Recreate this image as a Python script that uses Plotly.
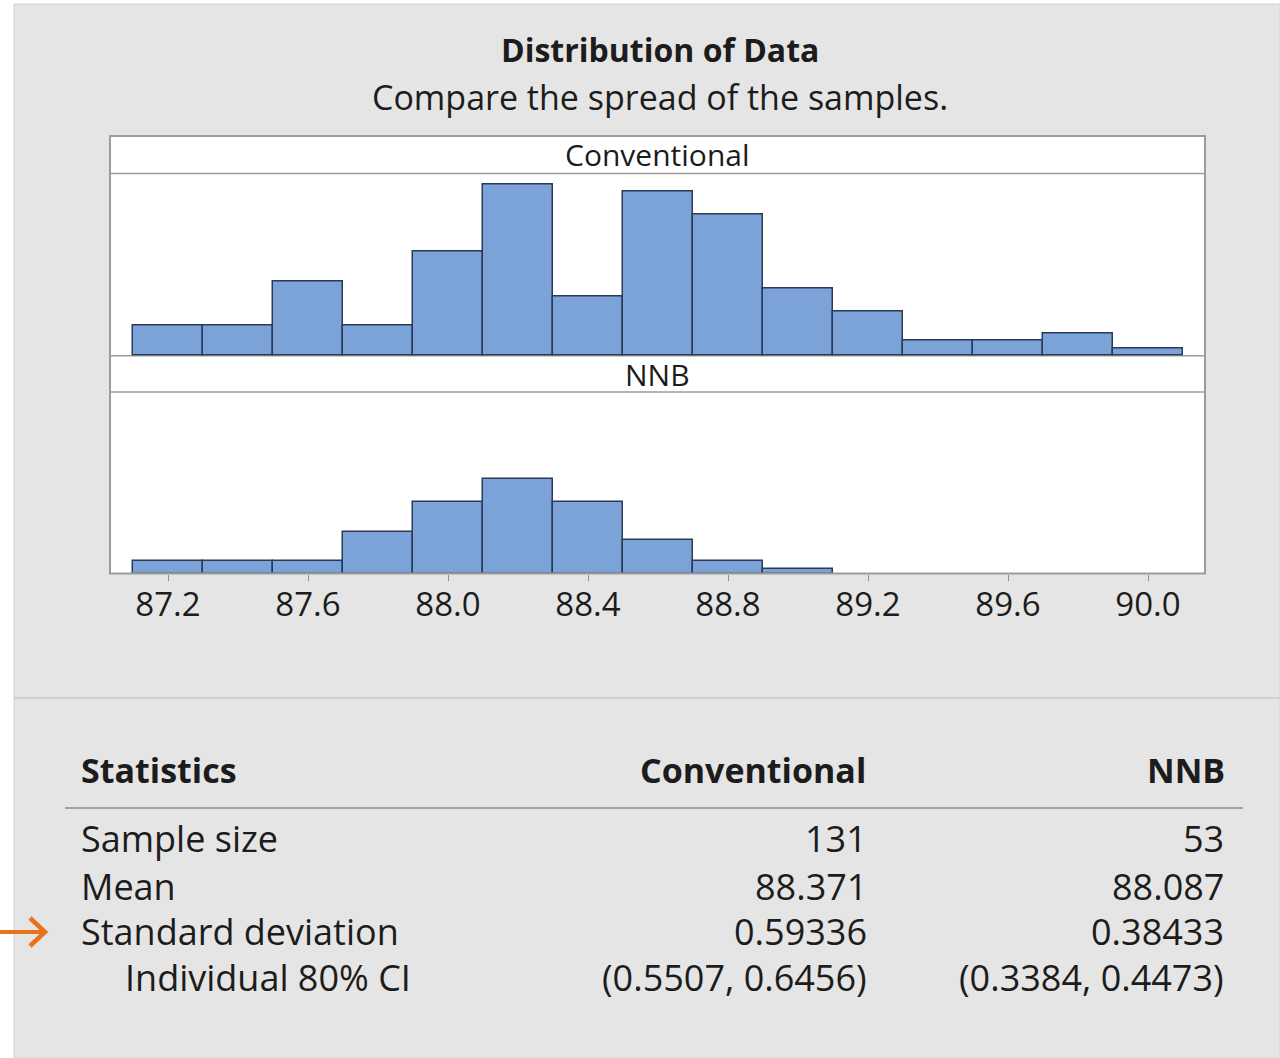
import plotly.graph_objects as go

W, H = 1280, 1058

# ---------------- data ----------------
bin_centers_conv = [87.2, 87.4, 87.6, 87.8, 88.0, 88.2, 88.4, 88.6, 88.8, 89.0, 89.2, 89.4, 89.6, 89.8, 90.0]
conv_counts = [4, 4, 10, 4, 14, 23, 8, 22, 19, 9, 6, 2, 2, 3, 1]
bin_centers_nnb = [87.2, 87.4, 87.6, 87.8, 88.0, 88.2, 88.4, 88.6, 88.8, 89.0]
nnb_heights = [1.68, 1.68, 1.68, 5.66, 9.6, 12.78, 9.6, 4.5, 1.68, 0.56]
bin_width = 0.2

x_ticks = [87.2, 87.6, 88.0, 88.4, 88.8, 89.2, 89.6, 90.0]
x_tick_labels = ["87.2", "87.6", "88.0", "88.4", "88.8", "89.2", "89.6", "90.0"]

groups = ["Conventional", "NNB"]
stat_labels = ["Sample size", "Mean", "Standard deviation", "Individual 80% CI"]
conv_stats = ["131", "88.371", "0.59336", "(0.5507, 0.6456)"]
nnb_stats = ["53", "88.087", "0.38433", "(0.3384, 0.4473)"]

title = "Distribution of Data"
subtitle = "Compare the spread of the samples."

# ---------------- helpers ----------------
def px(x):
    return x / W

def py(y):
    return 1 - y / H

FONT = "Open Sans"
TXT = "#1c1c1c"
BAR = "#7BA3D8"
BAR_LINE = "#2a3a58"
FRAME = "#9c9c9c"
BG = "#e5e5e5"

XL, XR = 110, 1205
TOP, STRIP1, BASE1, STRIP2, BOT = 136, 173.5, 355.7, 392, 573.5
xrange_ = [87.2 - (168 - XL) / 350.0, 87.2 + (XR - 168) / 350.0]
yrange_ = [0, (BASE1 - STRIP1) / 7.45]

fig = go.Figure()
fig.add_trace(go.Bar(x=bin_centers_conv, y=conv_counts, width=bin_width,
                     marker=dict(color=BAR, line=dict(color=BAR_LINE, width=1.5)),
                     xaxis="x", yaxis="y", showlegend=False, hoverinfo="skip"))
fig.add_trace(go.Bar(x=bin_centers_nnb, y=nnb_heights, width=bin_width,
                     marker=dict(color=BAR, line=dict(color=BAR_LINE, width=1.5)),
                     xaxis="x2", yaxis="y2", showlegend=False, hoverinfo="skip"))

axcommon = dict(range=xrange_, domain=[px(XL), px(XR)], showgrid=False, zeroline=False,
                showline=False, fixedrange=True)
fig.update_layout(
    width=W, height=H, margin=dict(l=0, r=0, t=0, b=0),
    paper_bgcolor="white", plot_bgcolor="rgba(0,0,0,0)",
    bargap=0,
    xaxis=dict(**axcommon, showticklabels=False, ticks="", anchor="y"),
    yaxis=dict(range=yrange_, domain=[py(BASE1), py(STRIP1)], visible=False, fixedrange=True),
    xaxis2=dict(**axcommon, anchor="y2", tickvals=x_ticks, ticktext=x_tick_labels,
                ticks="outside", ticklen=6, tickwidth=1, tickcolor="#8a8a8a",
                ticklabelstandoff=-4,
                tickfont=dict(family=FONT, size=33, color=TXT)),
    yaxis2=dict(range=yrange_, domain=[py(BOT), py(STRIP2)], visible=False, fixedrange=True),
)

shapes = []
# grey panel background
shapes.append(dict(type="rect", xref="paper", yref="paper", x0=px(14), x1=1, y0=0, y1=py(4),
                   fillcolor=BG, line=dict(color="#d2d2d2", width=1), layer="below"))
# divider between chart and table
shapes.append(dict(type="line", xref="paper", yref="paper", x0=px(14), x1=1, y0=py(698), y1=py(698),
                   line=dict(color="#cfcfcf", width=2), layer="below"))
# white frame
shapes.append(dict(type="rect", xref="paper", yref="paper", x0=px(XL), x1=px(XR), y0=py(BOT), y1=py(TOP),
                   fillcolor="white", line=dict(width=0), layer="below"))
# strip / panel lines
for yy in [STRIP1, BASE1, STRIP2]:
    shapes.append(dict(type="line", xref="paper", yref="paper", x0=px(XL), x1=px(XR), y0=py(yy), y1=py(yy),
                       line=dict(color=FRAME, width=1.5), layer="below"))
shapes.append(dict(type="rect", xref="paper", yref="paper", x0=px(XL), x1=px(XR), y0=py(BOT), y1=py(TOP),
                   fillcolor="rgba(0,0,0,0)", line=dict(color=FRAME, width=2), layer="above"))
# table header rule
shapes.append(dict(type="line", xref="paper", yref="paper", x0=px(65), x1=px(1243), y0=py(808), y1=py(808),
                   line=dict(color="#a3a3a3", width=2)))
# orange arrow
ORANGE = "#E8731C"
shapes.append(dict(type="line", xref="paper", yref="paper", x0=px(0), x1=px(44), y0=py(932), y1=py(932),
                   line=dict(color=ORANGE, width=4)))
shapes.append(dict(type="path", xref="paper", yref="paper",
                   path=f"M {px(30)} {py(918)} L {px(45)} {py(932)} L {px(30)} {py(946)}",
                   line=dict(color=ORANGE, width=4.5)))
fig.update_layout(shapes=shapes)

ann = []
def text(x, y, s, size, bold=False, xanchor="center"):
    ann.append(dict(xref="paper", yref="paper", x=px(x), y=py(y), text=f"<b>{s}</b>" if bold else s,
                    showarrow=False, xanchor=xanchor, yanchor="middle",
                    font=dict(family=FONT, size=size, color=TXT)))

text(660, 49, title, 32, bold=True)
text(660, 97, subtitle, 34)
text(657.5, 154, groups[0], 30)
text(657.5, 374, groups[1], 30)

text(79, 770, "Statistics", 34, bold=True, xanchor="left")
text(868, 770, groups[0], 34, bold=True, xanchor="right")
text(1227, 770, groups[1], 34, bold=True, xanchor="right")
row_y = [838, 886, 931, 977]
for i, lab in enumerate(stat_labels):
    text(123 if i == 3 else 79, row_y[i], lab, 36, xanchor="left")
    text(869, row_y[i], conv_stats[i], 36, xanchor="right")
    text(1226, row_y[i], nnb_stats[i], 36, xanchor="right")
fig.update_layout(annotations=ann)

fig.write_html("out.html")
